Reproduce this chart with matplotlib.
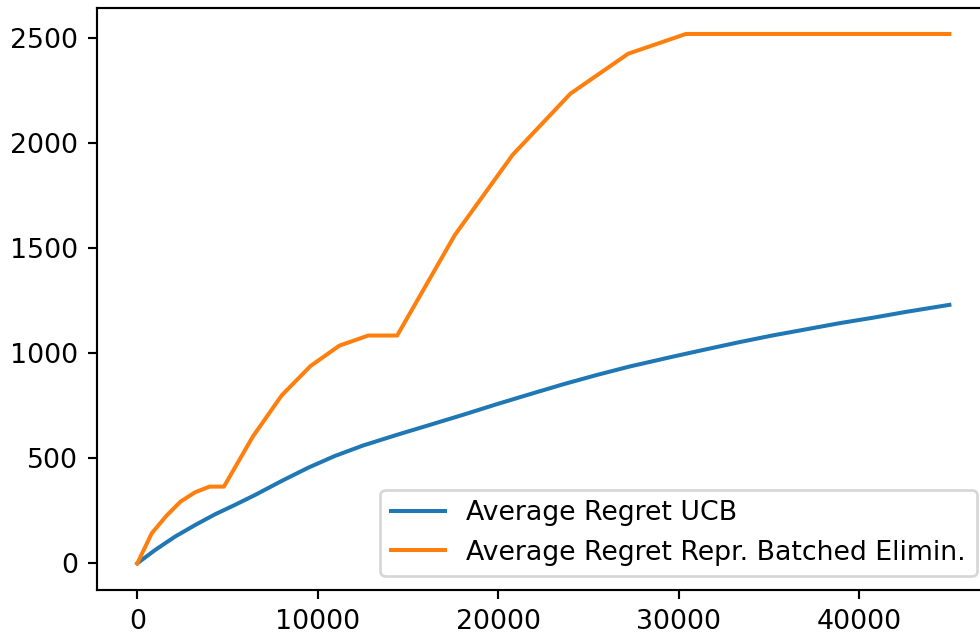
import matplotlib
matplotlib.use("Agg")
import matplotlib.pyplot as plt

# Average regret UCB
ucb_t = [0, 980, 2090, 3200, 4300, 5410, 6520, 8000, 9470, 10950,
         12520, 14370, 16220, 18060, 19910, 21760, 23600, 25450, 27300,
         29700, 31550, 33390, 35240, 37090, 38930, 40780, 42630, 45000]
ucb_regret = [0, 63, 127, 182, 233, 278, 325, 392, 455, 511,
              561, 611, 659, 707, 757, 805, 852, 896, 937,
              984, 1019, 1053, 1085, 1114, 1143, 1169, 1197, 1230]

# Average regret replicable batched elimination
elim_t = [0, 800, 1600, 2400, 3200, 4000, 4800, 6400, 8000, 9600,
          11200, 12800, 14400, 17600, 20800, 24000, 27200, 30400, 45000]
elim_regret = [0, 143, 225, 294, 338, 365, 365, 603, 799, 939,
               1036, 1084, 1084, 1563, 1944, 2235, 2425, 2519, 2519]

DPI = 193
fig = plt.figure(figsize=(980 / DPI, 634 / DPI), dpi=DPI)
# axes run past the right edge of the picture, like the cropped original
ax = fig.add_axes([96.7 / 980, 44.2 / 634, 893.3 / 980, 582.3 / 634])

ax.plot(ucb_t, ucb_regret, label="Average Regret UCB")
ax.plot(elim_t, elim_regret, label="Average Regret Repr. Batched Elimin.")
ax.legend(loc="lower right")

fig.savefig("out.png", dpi=DPI)
